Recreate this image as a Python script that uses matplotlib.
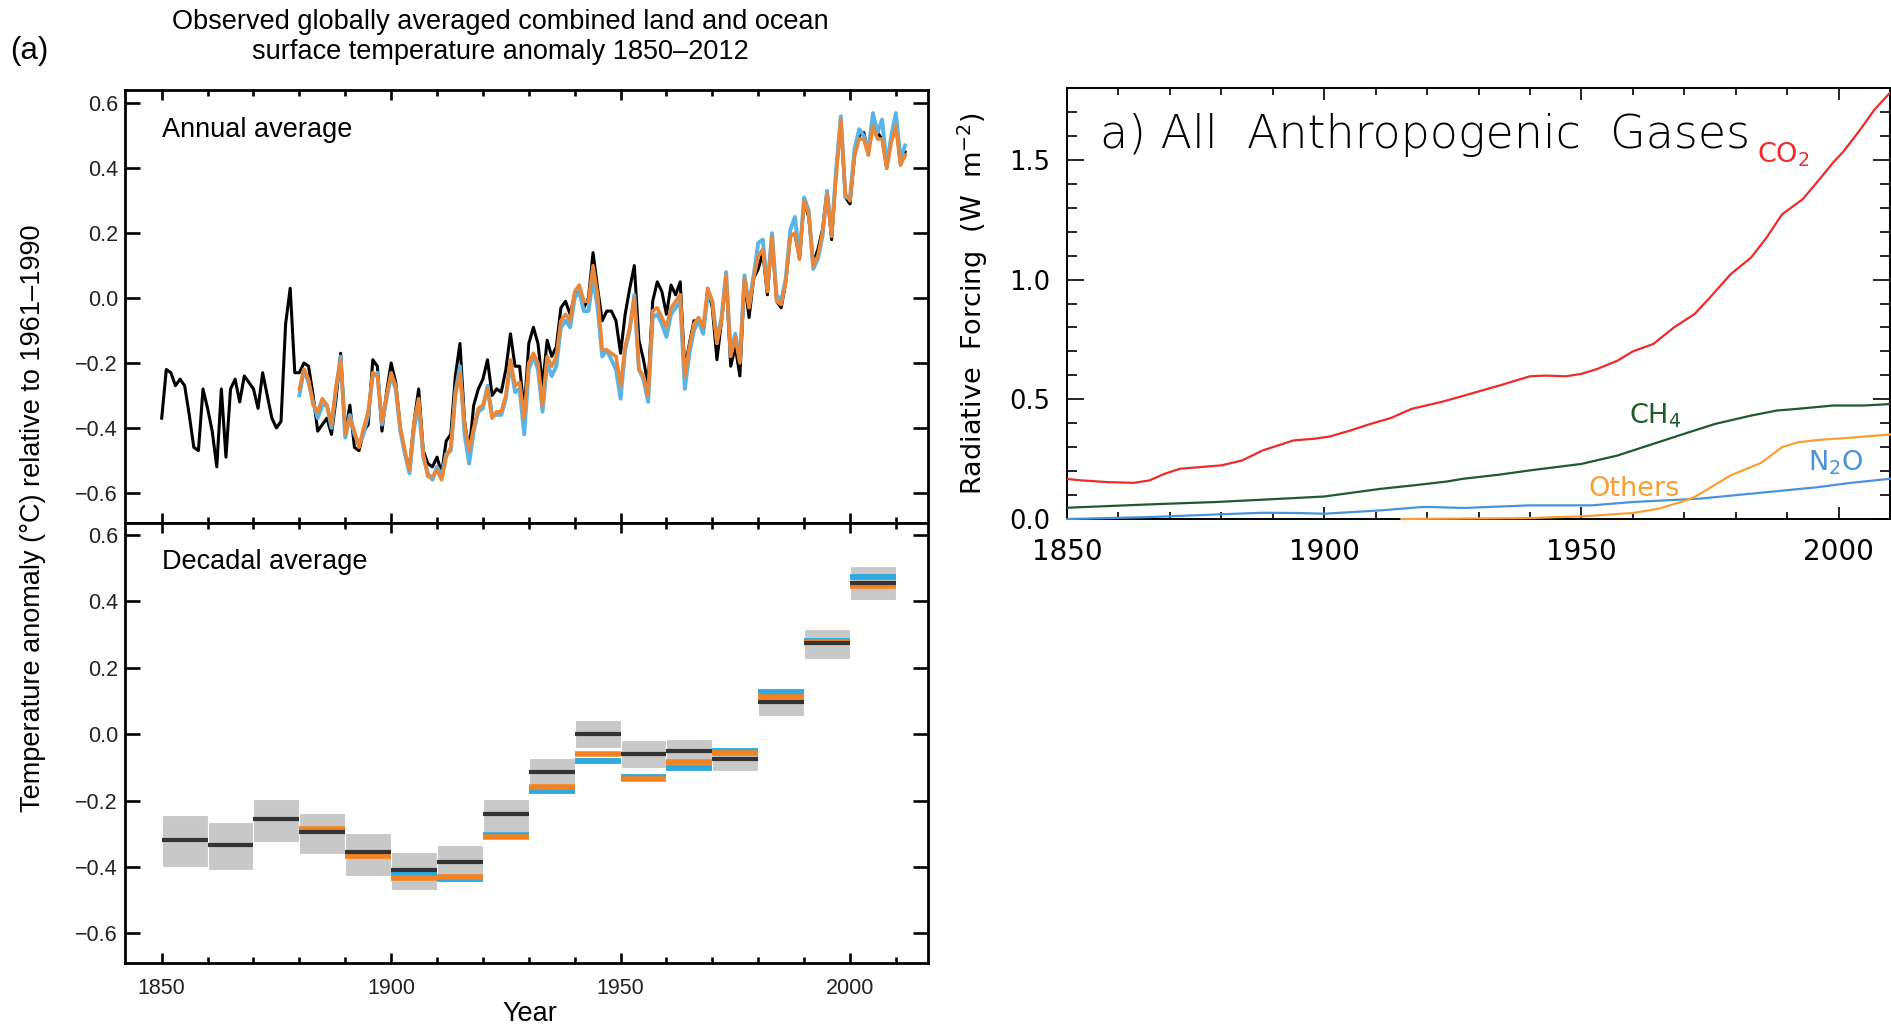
import matplotlib.pyplot as plt
import numpy as np
from matplotlib.ticker import MultipleLocator, FuncFormatter

plt.rcParams['font.family'] = ['Liberation Sans', 'DejaVu Sans']

# ---- data: annual average (HadCRUT4 black, NOAA orange, GISS blue) ----
had_year = np.arange(1850, 2013)
had_anom = [-0.37, -0.22, -0.23, -0.27, -0.25, -0.27, -0.36, -0.46, -0.47, -0.28,
            -0.34, -0.41, -0.52, -0.28, -0.49, -0.28, -0.25, -0.32, -0.24, -0.26,
            -0.28, -0.34, -0.23, -0.30, -0.37, -0.40, -0.38, -0.08, 0.03, -0.23,
            -0.23, -0.20, -0.21, -0.30, -0.41, -0.39, -0.37, -0.42, -0.31, -0.17,
            -0.42, -0.33, -0.46, -0.47, -0.41, -0.39, -0.19, -0.21, -0.41, -0.29,
            -0.20, -0.26, -0.40, -0.48, -0.52, -0.38, -0.28, -0.47, -0.51, -0.52,
            -0.49, -0.54, -0.44, -0.42, -0.24, -0.14, -0.38, -0.47, -0.33, -0.28,
            -0.25, -0.19, -0.30, -0.28, -0.29, -0.22, -0.11, -0.21, -0.21, -0.35,
            -0.14, -0.09, -0.14, -0.27, -0.13, -0.18, -0.15, -0.03, -0.01, -0.05,
            0.01, 0.02, -0.03, -0.00, 0.14, 0.03, -0.07, -0.04, -0.04, -0.07,
            -0.17, -0.05, 0.03, 0.10, -0.13, -0.19, -0.27, -0.01, 0.05, 0.02,
            -0.05, 0.04, 0.01, 0.05, -0.22, -0.14, -0.07, -0.07, -0.11, 0.03,
            -0.03, -0.19, -0.07, 0.06, -0.21, -0.15, -0.24, 0.05, -0.06, 0.06,
            0.09, 0.14, 0.01, 0.19, -0.01, -0.03, 0.05, 0.19, 0.20, 0.12,
            0.30, 0.25, 0.11, 0.15, 0.21, 0.33, 0.18, 0.39, 0.54, 0.31,
            0.29, 0.44, 0.50, 0.51, 0.45, 0.55, 0.51, 0.49, 0.40, 0.49,
            0.54, 0.41, 0.45]

noaa_year = np.arange(1880, 2013)
noaa_anom = [-0.28, -0.22, -0.25, -0.33, -0.35, -0.31, -0.33, -0.39, -0.27, -0.19,
             -0.42, -0.37, -0.41, -0.46, -0.40, -0.35, -0.23, -0.24, -0.38, -0.30,
             -0.23, -0.27, -0.40, -0.47, -0.53, -0.38, -0.31, -0.48, -0.55, -0.55,
             -0.53, -0.56, -0.49, -0.46, -0.30, -0.23, -0.39, -0.47, -0.40, -0.34,
             -0.33, -0.28, -0.37, -0.35, -0.35, -0.30, -0.19, -0.27, -0.26, -0.37,
             -0.20, -0.17, -0.20, -0.33, -0.18, -0.21, -0.18, -0.07, -0.05, -0.07,
             0.02, 0.04, -0.01, -0.01, 0.10, 0.01, -0.16, -0.16, -0.17, -0.18,
             -0.27, -0.15, -0.09, 0.00, -0.22, -0.24, -0.30, -0.04, -0.03, -0.06,
             -0.09, -0.03, -0.01, 0.01, -0.24, -0.15, -0.08, -0.06, -0.09, 0.03,
             -0.01, -0.14, -0.07, 0.07, -0.18, -0.12, -0.20, 0.06, -0.03, 0.06,
             0.13, 0.15, 0.02, 0.19, -0.01, -0.02, 0.05, 0.19, 0.20, 0.12,
             0.30, 0.26, 0.10, 0.13, 0.20, 0.32, 0.19, 0.38, 0.55, 0.32,
             0.30, 0.44, 0.49, 0.49, 0.44, 0.53, 0.49, 0.49, 0.40, 0.48,
             0.53, 0.41, 0.44]

giss_year = np.arange(1880, 2013)
giss_anom = [-0.30, -0.22, -0.26, -0.32, -0.37, -0.33, -0.33, -0.40, -0.28, -0.18,
             -0.43, -0.36, -0.42, -0.45, -0.42, -0.36, -0.24, -0.23, -0.39, -0.31,
             -0.24, -0.28, -0.41, -0.48, -0.54, -0.40, -0.33, -0.49, -0.54, -0.56,
             -0.52, -0.55, -0.48, -0.47, -0.29, -0.21, -0.42, -0.51, -0.41, -0.35,
             -0.34, -0.27, -0.36, -0.36, -0.36, -0.31, -0.20, -0.29, -0.28, -0.42,
             -0.22, -0.18, -0.22, -0.35, -0.20, -0.24, -0.21, -0.09, -0.07, -0.09,
             0.00, 0.02, -0.04, -0.04, 0.06, -0.03, -0.18, -0.16, -0.19, -0.22,
             -0.31, -0.16, -0.10, 0.01, -0.22, -0.25, -0.32, -0.06, -0.05, -0.08,
             -0.12, -0.05, -0.03, -0.01, -0.28, -0.17, -0.10, -0.07, -0.11, 0.01,
             -0.01, -0.13, -0.06, 0.08, -0.17, -0.11, -0.19, 0.07, -0.02, 0.07,
             0.17, 0.18, 0.03, 0.20, 0.01, -0.01, 0.06, 0.21, 0.25, 0.13,
             0.31, 0.27, 0.09, 0.12, 0.19, 0.33, 0.20, 0.40, 0.56, 0.31,
             0.31, 0.46, 0.52, 0.50, 0.45, 0.57, 0.51, 0.55, 0.41, 0.50,
             0.57, 0.43, 0.47]

# ---- data: decadal average ----
dec_start = np.arange(1850, 2010, 10)
dec_had = [-0.318, -0.333, -0.256, -0.296, -0.356, -0.410, -0.385, -0.240,
           -0.114, 0.000, -0.060, -0.052, -0.075, 0.097, 0.274, 0.454]
dec_low = [-0.400, -0.410, -0.324, -0.361, -0.427, -0.469, -0.444, -0.296,
           -0.176, -0.043, -0.102, -0.110, -0.110, 0.055, 0.226, 0.404]
dec_high = [-0.244, -0.264, -0.194, -0.236, -0.299, -0.354, -0.334, -0.194,
            -0.072, 0.042, -0.018, -0.015, -0.043, 0.136, 0.316, 0.507]
dec_start2 = np.arange(1880, 2010, 10)
dec_noaa = [-0.286, -0.368, -0.432, -0.430, -0.309, -0.159, -0.060, -0.134,
            -0.085, -0.058, 0.112, 0.278, 0.447]
dec_giss = [-0.290, -0.365, -0.420, -0.436, -0.305, -0.171, -0.082, -0.130,
            -0.102, -0.050, 0.126, 0.281, 0.474]

# ---- data: radiative forcing (W m-2) ----
co2_year = [1850, 1853, 1858, 1863, 1866, 1869, 1872, 1876, 1880, 1884, 1888,
            1894, 1898, 1901, 1905, 1909, 1913, 1917, 1920, 1923, 1926, 1934,
            1940, 1943, 1947, 1950, 1953, 1957, 1960, 1964, 1968, 1972, 1975,
            1979, 1983, 1986, 1989, 1993, 1996, 1999, 2001, 2004, 2007, 2010]
co2_rf = [0.167, 0.161, 0.154, 0.151, 0.161, 0.189, 0.210, 0.217, 0.224, 0.244,
          0.286, 0.328, 0.335, 0.344, 0.369, 0.397, 0.422, 0.460, 0.475, 0.490,
          0.508, 0.557, 0.596, 0.599, 0.596, 0.606, 0.626, 0.661, 0.700, 0.731,
          0.800, 0.856, 0.925, 1.022, 1.092, 1.175, 1.272, 1.335, 1.411, 1.490,
          1.536, 1.620, 1.710, 1.780]
ch4_year = [1850, 1866, 1879, 1892, 1900, 1911, 1918, 1924, 1927, 1934, 1940,
            1950, 1957, 1963, 1970, 1976, 1983, 1988, 1992, 1999, 2005, 2010]
ch4_rf = [0.047, 0.061, 0.071, 0.085, 0.094, 0.126, 0.142, 0.157, 0.168, 0.185,
          0.203, 0.230, 0.265, 0.307, 0.356, 0.397, 0.432, 0.453, 0.460, 0.474,
          0.474, 0.480]
n2o_year = [1850, 1866, 1879, 1888, 1895, 1900, 1911, 1919, 1921, 1927, 1940,
            1952, 1960, 1973, 1986, 1996, 2002, 2010]
n2o_rf = [0.000, 0.008, 0.019, 0.026, 0.025, 0.022, 0.036, 0.050, 0.050, 0.046,
          0.057, 0.057, 0.071, 0.085, 0.112, 0.133, 0.150, 0.168]
oth_year = [1915, 1940, 1950, 1960, 1965, 1970, 1972, 1975, 1979, 1985, 1989,
            1992, 1996, 2002, 2010]
oth_rf = [0.000, 0.004, 0.011, 0.025, 0.043, 0.075, 0.092, 0.130, 0.182, 0.235,
          0.300, 0.320, 0.330, 0.339, 0.353]

W, H = 1891, 1026
fig = plt.figure(figsize=(W / 100, H / 100), dpi=100)

ax1 = fig.add_axes([125 / W, 1 - 523 / H, 803 / W, 433 / H])
ax2 = fig.add_axes([125 / W, 1 - 963 / H, 803 / W, 440 / H])
ax3 = fig.add_axes([1067 / W, 1 - 519 / H, 823 / W, 431 / H])

fmt = FuncFormatter(lambda v, p: ('%.1f' % v).replace('-', '\u2212'))

# annual panel
ax1.plot(had_year, had_anom, color='black', lw=2.2, zorder=3)
ax1.plot(giss_year, giss_anom, color='#5bb4e6', lw=2.8, zorder=4)
ax1.plot(noaa_year, noaa_anom, color='#e8873a', lw=2.6, zorder=5)
ax1.set_ylim(-0.693, 0.641)
ax1.text(0.046, 0.8915, 'Annual average', transform=ax1.transAxes,
         fontsize=19.5, va='baseline', ha='left')

# decadal panel
ax2.bar(dec_start, np.array(dec_high) - np.array(dec_low), bottom=dec_low,
        width=10, align='edge', color='#c8c8c8', edgecolor='white', lw=0.8, zorder=1)
ax2.hlines(dec_giss, dec_start2, dec_start2 + 10, color='#2ea9e1', lw=4.2, zorder=2)
ax2.hlines(dec_noaa, dec_start2, dec_start2 + 10, color='#f58220', lw=4.0, zorder=3)
ax2.hlines(dec_had, dec_start, dec_start + 10, color='#333333', lw=3.0, zorder=4)
ax2.set_ylim(-0.689, 0.636)
ax2.text(0.046, 0.895, 'Decadal average', transform=ax2.transAxes,
         fontsize=19.5, va='baseline', ha='left')

for ax in (ax1, ax2):
    ax.set_xlim(1842, 2017)
    ax.xaxis.set_major_locator(MultipleLocator(50))
    ax.xaxis.set_minor_locator(MultipleLocator(10))
    ax.yaxis.set_major_locator(MultipleLocator(0.2))
    ax.yaxis.set_major_formatter(fmt)
    ax.tick_params(axis='both', which='both', direction='in', top=True, right=True,
                   width=1.9, labelsize=15.5, colors='black', labelcolor='#222222')
    ax.tick_params(axis='x', which='major', length=7.5, pad=11)
    ax.tick_params(axis='x', which='minor', length=4)
    ax.tick_params(axis='y', which='major', length=10.5, pad=5)
    for s in ax.spines.values():
        s.set_linewidth(2.0)
ax1.tick_params(axis='x', labelbottom=False)

fig.text(530 / W, 1 - 1021 / H, 'Year', ha='center', va='baseline', fontsize=19.5)
fig.text(33 / W, 1 - 518 / H, 'Temperature anomaly (\u00b0C) relative to 1961\u20131990',
         rotation=90, ha='center', va='center', fontsize=19.5)
fig.text(500 / W, 1 - 37 / H,
         'Observed globally averaged combined land and ocean\nsurface temperature anomaly 1850\u20132012',
         ha='center', va='center', fontsize=19.5, linespacing=1.2)
fig.text(10 / W, 1 - 51 / H, '(a)', ha='left', va='center', fontsize=22.5)

# forcing panel
rf_font = dict(family='DejaVu Sans')
ax3.plot(co2_year, co2_rf, color='#ee2a2a', lw=1.6, zorder=3)
ax3.plot(ch4_year, ch4_rf, color='#1e5a2c', lw=1.6, zorder=3)
ax3.plot(n2o_year, n2o_rf, color='#4a93dc', lw=1.6, zorder=3, clip_on=False)
ax3.plot(oth_year, oth_rf, color='#f8a035', lw=1.6, zorder=3, clip_on=False)
ax3.set_xlim(1850, 2010)
ax3.set_ylim(0, 1.8)
ax3.xaxis.set_major_locator(MultipleLocator(50))
ax3.xaxis.set_minor_locator(MultipleLocator(10))
ax3.yaxis.set_major_locator(MultipleLocator(0.5))
ax3.yaxis.set_minor_locator(MultipleLocator(0.1))
ax3.yaxis.set_major_formatter(fmt)
ax3.tick_params(axis='both', which='both', direction='in', top=True, right=True, width=1.2)
ax3.tick_params(axis='y', which='major', length=12.5, pad=12)
ax3.tick_params(axis='y', which='minor', length=7.5)
ax3.tick_params(axis='x', which='major', length=8.5, pad=14)
ax3.tick_params(axis='x', which='minor', length=5)
for s in ax3.spines.values():
    s.set_linewidth(1.4)
for lab in ax3.get_yticklabels():
    lab.set_fontproperties(dict(rf_font, size=18.5))
for lab in ax3.get_xticklabels():
    lab.set_fontproperties(dict(rf_font, size=20))
ax3.set_ylabel('Radiative  Forcing  (W  m$^{-2}$)', fontsize=19.5, labelpad=14, **rf_font)
ax3.text(0.040, 0.861, 'a) All  Anthropogenic  Gases', transform=ax3.transAxes,
         fontsize=33, va='baseline', ha='left', family='DejaVu Sans', weight=200)
ax3.text(1984.2, 1.49, 'CO$_2$', color='#ee2a2a', fontsize=19.5, va='baseline', **rf_font)
ax3.text(1959.3, 0.40, 'CH$_4$', color='#1e5a2c', fontsize=19.5, va='baseline', **rf_font)
ax3.text(1994.0, 0.204, 'N$_2$O', color='#4a93dc', fontsize=19.5, va='baseline', **rf_font)
ax3.text(1951.4, 0.096, 'Others', color='#f8a035', fontsize=19.5, va='baseline', **rf_font)

fig.savefig('out.png', dpi=100)
